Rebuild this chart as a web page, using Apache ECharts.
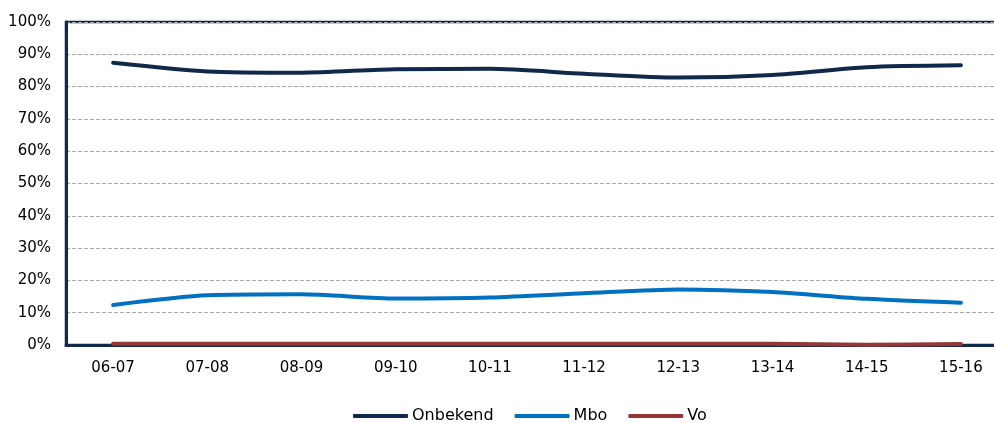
<!DOCTYPE html>
<html>
<head>
<meta charset="utf-8">
<script src="https://cdn.jsdelivr.net/npm/echarts@6/dist/echarts.min.js"></script>
<style>
  html, body { margin: 0; padding: 0; background: #fff; overflow: hidden; width: 994px; height: 423px; }
  #chart { width: 1012px; height: 423px; }
</style>
</head>
<body>
<div id="chart"></div>
<script>
const categories = ['06-07', '07-08', '08-09', '09-10', '10-11', '11-12', '12-13', '13-14', '14-15', '15-16'];
const onbekend = [87.4, 84.7, 84.3, 85.4, 85.5, 84.0, 82.8, 83.6, 86.0, 86.6];
const mbo = [12.4, 15.4, 15.7, 14.4, 14.7, 16.0, 17.2, 16.4, 14.3, 13.1];
const vo = [0.4, 0.4, 0.4, 0.4, 0.4, 0.4, 0.4, 0.4, 0.1, 0.3];
const yTicks = { min: 0, max: 100, interval: 10 };

const chart = echarts.init(document.getElementById('chart'), null, { renderer: 'canvas' });
const navy = '#10294a';
const axisFont = { fontFamily: 'DejaVu Sans', fontSize: 15, color: '#000' };

function lineSeries(name, data, color) {
  return {
    name: name,
    type: 'line',
    data: data,
    smooth: 0.25,
    symbol: 'none',
    lineStyle: { color: color, width: 4, cap: 'round' },
    itemStyle: { color: color }
  };
}

chart.setOption({
  animation: false,
  backgroundColor: '#fff',
  grid: {
    left: 66, top: 22, bottom: 78, right: 4,
    show: true, borderColor: navy, borderWidth: 2.5, backgroundColor: 'transparent'
  },
  legend: {
    left: 348, top: 403,
    icon: 'roundRect',
    itemWidth: 55, itemHeight: 4,
    itemGap: 21,
    textStyle: { fontFamily: 'DejaVu Sans', fontSize: 16, color: '#000', padding: [0, 0, 0, -1] },
    data: ['Onbekend', 'Mbo', 'Vo']
  },
  xAxis: {
    type: 'category',
    data: categories,
    boundaryGap: true,
    axisLine: { show: true, lineStyle: { color: navy, width: 3 } },
    axisTick: { show: false },
    axisLabel: Object.assign({ margin: 16 }, axisFont),
    splitLine: { show: false }
  },
  yAxis: {
    type: 'value',
    min: yTicks.min, max: yTicks.max, interval: yTicks.interval,
    axisLine: { show: true, lineStyle: { color: navy, width: 3 } },
    axisTick: { show: false },
    axisLabel: Object.assign({ margin: 15, formatter: '{value}%' }, axisFont),
    splitLine: { show: true, lineStyle: { color: '#a6a6a6', width: 1, type: [4, 2] } }
  },
  series: [
    lineSeries('Onbekend', onbekend, '#10294a'),
    lineSeries('Mbo', mbo, '#0070c0'),
    lineSeries('Vo', vo, '#953735')
  ]
});
</script>
</body>
</html>
